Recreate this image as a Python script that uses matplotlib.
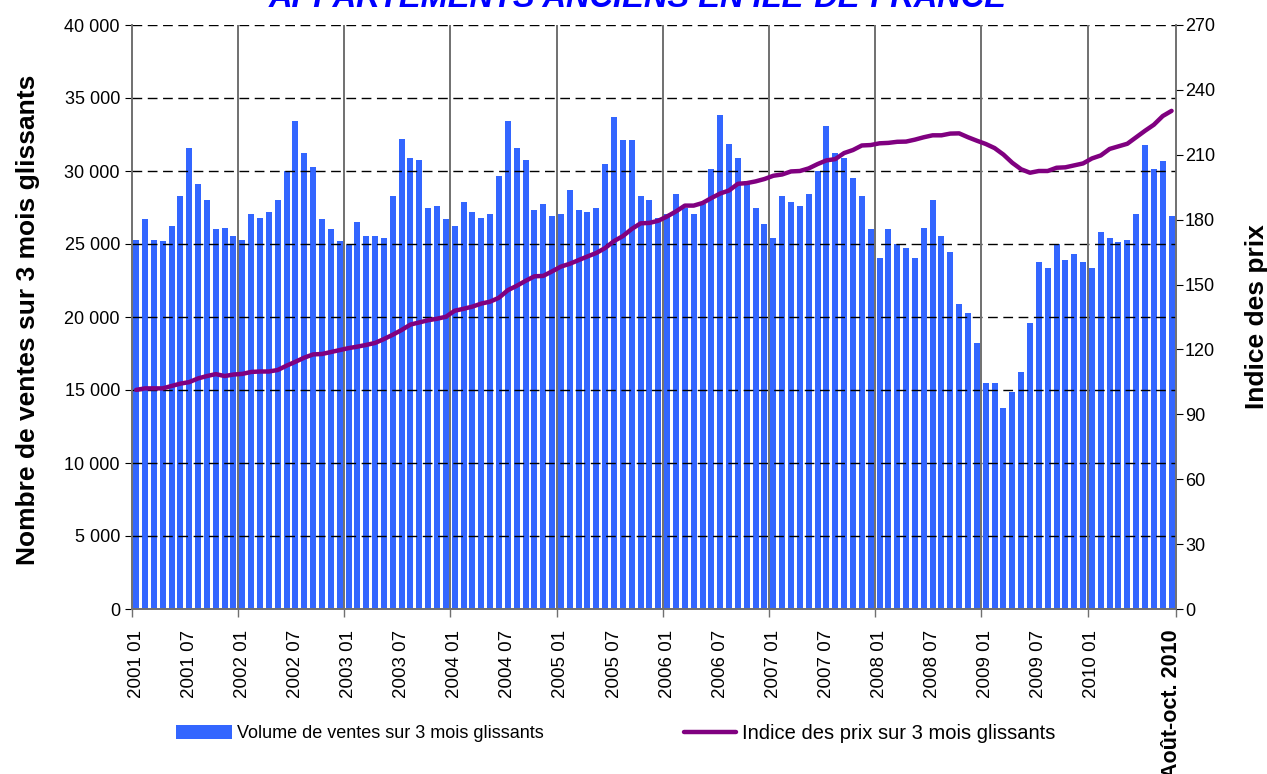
import numpy as np
import matplotlib
matplotlib.use("Agg")
import matplotlib.pyplot as plt
from matplotlib.ticker import FuncFormatter, FixedLocator

plt.rcParams['font.family'] = ['Liberation Sans', 'DejaVu Sans']

title = "APPARTEMENTS ANCIENS EN ILE-DE-FRANCE"

volumes = [
    25300, 26700, 25300, 25200, 26250, 28300, 31600, 29130, 28030, 26000, 26100, 25570,
    25300, 27070, 26800, 27200, 28030, 30000, 33400, 31200, 30250, 26700, 26000, 25200,
    24900, 26480, 25570, 25570, 25430, 28300, 32200, 30900, 30770, 27490, 27630, 26700,
    26250, 27900, 27200, 26800, 27070, 29680, 33400, 31600, 30770, 27340, 27760, 26940,
    27070, 28720, 27340, 27200, 27490, 30500, 33680, 32110, 32110, 28300, 28030, 26800,
    27070, 28440, 27490, 27070, 27760, 30120, 33820, 31880, 30900, 29300, 27490, 26390,
    25430, 28300, 27900, 27630, 28440, 30000, 33070, 31200, 30900, 29540, 28300, 26000,
    24060, 26000, 25000, 24750, 24060, 26100, 28030, 25570, 24480, 20920, 20240, 18240,
    15500, 15500, 13780, 14880, 16250, 19560, 23800, 23390, 25030, 23930, 24340, 23800,
    23390, 25850, 25430, 25160, 25300, 27070, 31750, 30120, 30670, 26940,
]

price_index = [
    101.3, 102.0, 102.0, 102.0, 103.1, 104.2, 104.9, 106.6, 107.7, 108.6, 107.7, 108.4,
    108.7, 109.6, 109.8, 109.8, 110.5, 112.5, 114.3, 116.2, 117.7, 117.9, 118.8, 119.7,
    120.6, 121.3, 122.1, 123.0, 124.8, 126.8, 129.0, 131.5, 132.5, 133.5, 134.2, 135.1,
    137.9, 138.8, 139.8, 141.2, 142.1, 143.9, 147.4, 149.4, 151.7, 153.8, 154.0, 156.1,
    158.3, 159.6, 161.3, 163.0, 164.6, 166.9, 170.1, 172.4, 175.7, 178.3, 178.5, 179.5,
    181.5, 183.8, 186.5, 186.5, 187.7, 190.0, 192.1, 193.5, 196.6, 196.9, 197.7, 198.8,
    200.3, 200.9, 202.3, 202.5, 203.7, 205.7, 207.4, 208.0, 210.8, 212.2, 214.3, 214.5,
    215.3, 215.5, 216.0, 216.1, 217.0, 218.1, 219.0, 219.0, 219.8, 219.9, 218.1, 216.5,
    215.0, 213.1, 210.1, 206.3, 203.3, 201.7, 202.5, 202.5, 204.0, 204.2, 205.1, 206.0,
    208.3, 209.7, 212.7, 213.9, 215.1, 218.1, 221.1, 223.9, 227.9, 230.3,
]

months = [f"{y} {m:02d}" for y in range(2001, 2011) for m in range(1, 13)][:len(volumes)]
last_label = "Août-oct. 2010"
label_every = 6
last_regular_label = "2010 01"

left_ticks = list(range(0, 40001, 5000))
right_ticks = list(range(0, 271, 30))

legend_labels = ["Volume de ventes sur 3 mois glissants",
                 "Indice des prix sur 3 mois glissants"]
ylabel_left = "Nombre de ventes sur 3 mois glissants"
ylabel_right = "Indice des prix"

bar_color = "#3366FF"
line_color = "#800080"

fig = plt.figure(figsize=(12.67, 7.74), dpi=100)
ax = fig.add_axes([131.7 / 1267, 1 - 609 / 774, (1176 - 131.7) / 1267, (609 - 25) / 774])
ax2 = ax.twinx()

n = len(volumes)
x = np.arange(n)
bars = ax.bar(x, volumes, width=0.68, color=bar_color, zorder=2)
ax.set_xlim(-0.5, n - 0.5)
ax.set_ylim(0, 40000)
ax.set_yticks(left_ticks)
ax.yaxis.set_major_formatter(FuncFormatter(lambda v, p: f"{int(v):,}".replace(",", " ")))

# horizontal dashed gridlines
for t in left_ticks[1:]:
    ax.axhline(t, color="black", lw=1.0, ls=(0, (7, 4)), zorder=3)

# vertical January separators
jan_bounds = [i - 0.5 for i in range(12, n, 12)]
for b in jan_bounds:
    ax.axvline(b, color="#707070", lw=1.4, zorder=3)

# x tick labels
last_idx = months.index(last_regular_label)
lab_pos = [i for i in range(0, last_idx + 1, label_every)] + [n - 1]
lab_txt = [months[i] for i in range(0, last_idx + 1, label_every)] + [last_label]
ax.set_xticks(lab_pos)
ax.set_xticklabels(lab_txt, rotation=90, fontsize=13.5)
ax.get_xticklabels()[-1].set_fontweight("bold")
ax.get_xticklabels()[-1].set_fontsize(15.5)
ax.tick_params(axis="x", which="major", length=0, pad=15)
ax.xaxis.set_minor_locator(FixedLocator([i - 0.5 for i in range(0, n, 12)] + [n - 0.5]))
ax.tick_params(axis="x", which="minor", length=6, width=1, color="#707070")
ax.tick_params(axis="y", labelsize=13, length=5, direction="out")

ax2.plot(x, price_index, color=line_color, lw=3.2, zorder=4, solid_capstyle="round")
ax2.set_ylim(0, 270)
ax2.set_yticks(right_ticks)
ax2.tick_params(axis="y", labelsize=13, length=5, direction="out", pad=1.5)

for a in (ax, ax2):
    a.spines["top"].set_visible(False)
    for s in ("left", "right", "bottom"):
        a.spines[s].set_color("#707070")
        a.spines[s].set_linewidth(1.2)

ax.set_ylabel(ylabel_left, fontsize=19, fontweight="bold")
ax.yaxis.set_label_coords(-0.088, 0.495)
ax2.set_ylabel(ylabel_right, fontsize=19, fontweight="bold")
ax2.yaxis.set_label_coords(1.066, 0.5)

line_handle = ax2.lines[0]
fig.legend([bars], [legend_labels[0]], loc="center left",
           bbox_to_anchor=(167 / 1267, 0.052), frameon=False, borderpad=0,
           fontsize=13, handlelength=3.1, handleheight=0.85, handletextpad=0.3)
fig.legend([line_handle], [legend_labels[1]], loc="center left",
           bbox_to_anchor=(674 / 1267, 0.052), frameon=False, borderpad=0,
           fontsize=14.5, handlelength=2.6, handletextpad=0.3)

fig.text(0.503, 0.991, title, ha="center", va="baseline", fontsize=23.5,
         fontweight="bold", fontstyle="italic", color="#0000FF")

fig.savefig("out.png", dpi=100)
